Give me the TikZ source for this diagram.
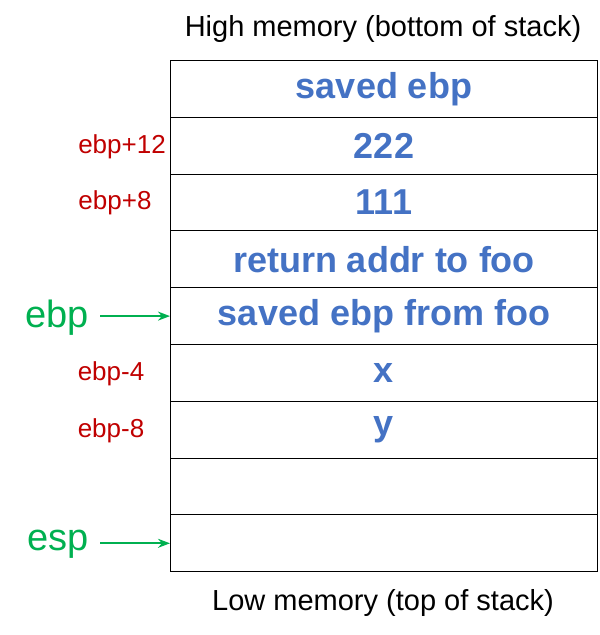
\documentclass[tikz,border=0pt]{standalone}
\usepackage{fontspec}
\setmainfont{Liberation Sans}
\usetikzlibrary{arrows.meta}
\definecolor{bl}{HTML}{4472C4}
\definecolor{rd}{HTML}{C00000}
\definecolor{gr}{HTML}{00B050}
\begin{document}
\begin{tikzpicture}[x=1pt,y=-1pt,
  cell/.style={draw,line width=1pt,minimum width=427pt,minimum height=56.8pt,inner sep=0pt,anchor=north west,text=bl,font=\fontsize{36}{38}\selectfont\bfseries},
  off/.style={text=rd,font=\fontsize{26}{28}\selectfont},
  ptr/.style={text=gr,font=\fontsize{38}{40}\selectfont},
  parr/.style={draw=gr,line width=2pt,-{Stealth[length=12pt,width=9pt]}}]
\useasboundingbox (0,0) rectangle (600,635);
\foreach \t [count=\i] in {saved ebp,222,111,return addr to foo,saved ebp from foo,x,y,,}{
  \node[cell] (r\i) at (170,{60+(\i-1)*56.8}) {\raisebox{-4pt}{\t}};
}
\node[font=\fontsize{29}{30}\selectfont] (hi) at (383,29) {High memory (bottom of stack)};
\node[font=\fontsize{29}{30}\selectfont] (lo) at (383,603) {Low memory (top of stack)};
\node[off] (o1) at (122,147) {ebp+12};
\node[off] (o2) at (115,203) {ebp+8};
\node[off] (o3) at (111,374) {ebp-4};
\node[off] (o4) at (111,431) {ebp-8};
\node[ptr] (pe) at (57,318) {ebp};
\node[ptr] (ps) at (58,544) {esp};
\draw[parr] (r5.west -| 100,0) -- (r5.west);
\draw[parr] (r9.west -| 100,0) -- (r9.west);
\end{tikzpicture}
\end{document}
